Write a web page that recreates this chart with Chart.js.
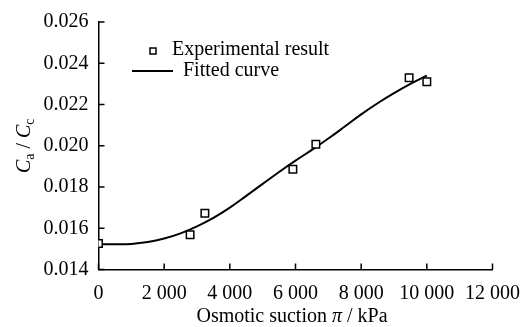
<!DOCTYPE html>
<html>
<head>
<meta charset="utf-8">
<script src="https://cdn.jsdelivr.net/npm/chart.js@4/dist/chart.umd.min.js"></script>
<style>
  html, body { margin: 0; padding: 0; background: #fff; }
  #wrap { width: 532px; height: 327px; position: relative; }
</style>
</head>
<body>
<div id="wrap"><canvas id="c" width="532" height="327"></canvas></div>
<script>
// Measured points: osmotic suction (kPa) vs Ca/Cc
const expX = [0, 2790, 3240, 5920, 6620, 9460, 10000];
const expY = [0.01526, 0.01569, 0.01673, 0.01886, 0.02007, 0.0233, 0.0231];

// Fitted curve samples
const fitX = [0, 500, 1000, 1500, 2000, 2500, 3000, 3500, 4000, 4500, 5000,
              5500, 6000, 6500, 7000, 7500, 8000, 8500, 9000, 9500, 10000];
const fitY = [0.01522, 0.01522, 0.01524, 0.01533, 0.01550, 0.01575, 0.01609,
              0.01650, 0.01700, 0.01757, 0.01815, 0.01873, 0.01928, 0.01980,
              0.02035, 0.02093, 0.02152, 0.02206, 0.02255, 0.02300, 0.02340];

// Axis tick labels
const xTickLabels = ['0', '2 000', '4 000', '6 000', '8 000', '10 000', '12 000'];
const yTickLabels = ['0.014', '0.016', '0.018', '0.020', '0.022', '0.024', '0.026'];

const seriesNames = ['Experimental result', 'Fitted curve'];

const FONT = '"Liberation Serif", "Times New Roman", serif';
const FS = 20;

// Inward tick marks, axis titles and legend
const decorations = {
  id: 'decorations',
  afterDraw(chart) {
    const ctx = chart.ctx;
    const xs = chart.scales.x, ys = chart.scales.y;
    const area = chart.chartArea;
    ctx.save();
    ctx.strokeStyle = '#000';
    ctx.lineWidth = 1.5;
    ctx.beginPath();
    ys.ticks.forEach(t => {
      const py = ys.getPixelForValue(t.value);
      ctx.moveTo(area.left, py);
      ctx.lineTo(area.left + 6, py);
    });
    xs.ticks.forEach(t => {
      const px = xs.getPixelForValue(t.value);
      ctx.moveTo(px, area.bottom);
      ctx.lineTo(px, area.bottom - 6);
    });
    ctx.stroke();

    ctx.fillStyle = '#000';
    ctx.textBaseline = 'alphabetic';

    // x-axis title
    const xParts = [
      { t: 'Osmotic suction ', f: `${FS}px ${FONT}` },
      { t: 'π', f: `italic ${FS}px ${FONT}` },
      { t: ' / kPa', f: `${FS}px ${FONT}` }
    ];
    let total = 0;
    xParts.forEach(p => { ctx.font = p.f; p.w = ctx.measureText(p.t).width; total += p.w; });
    let cx = 292 - total / 2;
    xParts.forEach(p => { ctx.font = p.f; ctx.fillText(p.t, cx, 322); cx += p.w; });

    // y-axis title (rotated)
    const yParts = [
      { t: 'C', f: `italic ${FS}px ${FONT}`, dy: 0 },
      { t: 'a', f: `${FS * 0.7}px ${FONT}`, dy: 4 },
      { t: ' / ', f: `${FS}px ${FONT}`, dy: 0 },
      { t: 'C', f: `italic ${FS}px ${FONT}`, dy: 0 },
      { t: 'c', f: `${FS * 0.7}px ${FONT}`, dy: 4 }
    ];
    total = 0;
    yParts.forEach(p => { ctx.font = p.f; p.w = ctx.measureText(p.t).width; total += p.w; });
    ctx.translate(30, (area.top + area.bottom) / 2);
    ctx.rotate(-Math.PI / 2);
    let cy = -total / 2;
    yParts.forEach(p => { ctx.font = p.f; ctx.fillText(p.t, cy, p.dy); cy += p.w; });
    ctx.setTransform(1, 0, 0, 1, 0, 0);

    // legend
    ctx.font = `${FS}px ${FONT}`;
    ctx.textBaseline = 'middle';
    ctx.lineWidth = 1.5;
    ctx.fillStyle = '#fff';
    ctx.fillRect(150, 48, 6, 6);
    ctx.strokeRect(150, 48, 6, 6);
    ctx.fillStyle = '#000';
    ctx.fillText(seriesNames[0], 172, 50);
    ctx.lineWidth = 2;
    ctx.beginPath();
    ctx.moveTo(132, 71);
    ctx.lineTo(173, 71);
    ctx.stroke();
    ctx.fillText(seriesNames[1], 183, 71);
    ctx.restore();
  }
};

new Chart(document.getElementById('c'), {
  type: 'scatter',
  data: {
    datasets: [
      {
        label: seriesNames[0],
        data: expX.map((x, i) => ({ x, y: expY[i] })),
        pointStyle: 'rect',
        pointRadius: 5.3,
        pointBorderWidth: 1.5,
        pointBorderColor: '#000',
        pointBackgroundColor: '#fff',
        showLine: false,
        order: 0
      },
      {
        label: seriesNames[1],
        data: fitX.map((x, i) => ({ x, y: fitY[i] })),
        showLine: true,
        borderColor: '#000',
        borderWidth: 2,
        pointRadius: 0,
        tension: 0.4,
        order: 1
      }
    ]
  },
  options: {
    responsive: false,
    animation: false,
    layout: { padding: { left: 0, right: 37, top: 19.5, bottom: 0 } },
    plugins: { legend: { display: false }, tooltip: { enabled: false } },
    scales: {
      x: {
        type: 'linear',
        min: 0, max: 12000,
        afterFit(s) { s.height = 57.5; },
        afterBuildTicks(s) { s.ticks = xTickLabels.map((_, i) => ({ value: i * 2000 })); },
        grid: { display: false, drawTicks: false },
        border: { display: true, color: '#000', width: 1.5 },
        ticks: {
          padding: 12,
          color: '#000',
          font: { family: FONT, size: FS },
          callback: (v, i) => xTickLabels[i]
        }
      },
      y: {
        type: 'linear',
        min: 0.014, max: 0.026,
        afterFit(s) { s.width = 98.5; },
        afterBuildTicks(s) { s.ticks = yTickLabels.map(l => ({ value: parseFloat(l) })); },
        grid: { display: false, drawTicks: false },
        border: { display: true, color: '#000', width: 1.5 },
        ticks: {
          padding: 10,
          color: '#000',
          font: { family: FONT, size: FS },
          callback: (v, i) => yTickLabels[i]
        }
      }
    }
  },
  plugins: [decorations]
});
</script>
</body>
</html>
